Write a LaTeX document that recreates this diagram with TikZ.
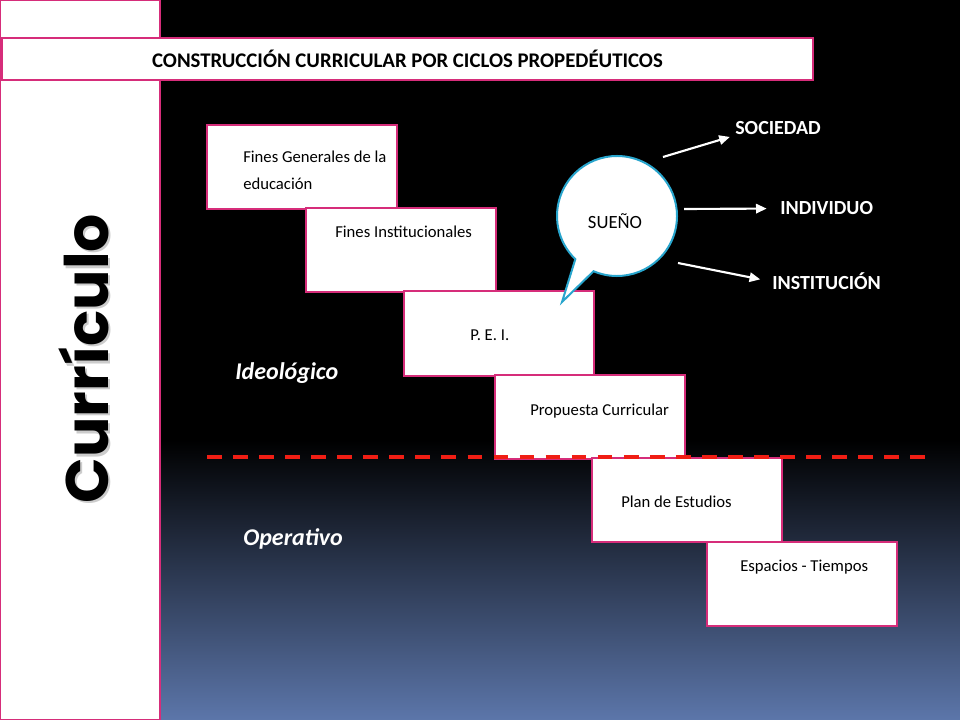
\documentclass[tikz,border=0pt]{standalone}
\usepackage{fontspec}
\setmainfont{Carlito}
\newfontfamily\curfont{Poppins}
\usetikzlibrary{arrows.meta,calc}
\definecolor{rosa}{RGB}{214,45,122}
\definecolor{celeste}{RGB}{40,165,205}
\definecolor{pizarra}{RGB}{92,118,170}
\definecolor{rojo}{RGB}{240,30,20}
\begin{document}
\begin{tikzpicture}[x=0.75pt,y=-0.75pt,
    caja/.style={draw=rosa,line width=1.5pt,fill=white,minimum width=142.5pt,minimum height=63pt,inner sep=0pt},
    txt/.style={inner sep=0pt,anchor=base west,font=\fontsize{12.5}{15}\selectfont},
    etiq/.style={inner sep=0pt,anchor=base west,text=white,font=\fontsize{15}{18}\selectfont\bfseries},
    nivel/.style={inner sep=0pt,anchor=base west,text=white,font=\fontsize{18}{22}\selectfont\bfseries\itshape},
    flecha/.style={draw=white,line width=1.6pt,-{Triangle[length=8pt,width=7pt]}}]
    \useasboundingbox (0,0) rectangle (960,720);
    \fill[black] (0,0) rectangle (960,720);
    \shade[top color=black,bottom color=pizarra] (0,440) rectangle (960,720);
    \draw[draw=rosa,fill=white,line width=1pt] (0.5,0.5) rectangle (160,719.5);
    \node[draw=rosa,fill=white,line width=1.5pt,minimum width=608pt,minimum height=31.5pt,inner sep=0pt,
      font=\fontsize{15.6}{18}\selectfont\bfseries] (tit) at (407.5,59) {CONSTRUCCIÓN CURRICULAR POR CICLOS PROPEDÉUTICOS};
    \node[rotate=90,anchor=base,text=gray,opacity=0.4,font=\curfont\bfseries\fontsize{45}{50}\selectfont] (cursombra) at (110.5,361) {Currículo};
    \node[rotate=90,anchor=base,font=\curfont\bfseries\fontsize{45}{50}\selectfont] (cur) at (108,358.5) {Currículo};
    \node[caja] (fines) at (302,167) {};
    \node[caja] (inst) at (400.5,250.5) {};
    \node[caja] (pei) at (498.5,333.5) {};
    \node[caja] (prop) at (589.5,416.5) {};
    \node[caja] (plan) at (687,500) {};
    \node[caja] (esp) at (801.5,584) {};
    \node[txt] (finestxt) at (243,163) {Fines Generales de la};
    \node[txt] (finestxtb) at (243,190) {educación};
    \node[txt] (insttxt) at (335,238) {Fines Institucionales};
    \node[txt] (peitxt) at (470,340) {P. E. I.};
    \node[txt] (proptxt) at (530,415) {Propuesta Curricular};
    \node[txt] (plantxt) at (621,507) {Plan de Estudios};
    \node[txt] (esptxt) at (740,571) {Espacios - Tiempos};
    \draw[rojo,line width=3pt,dash pattern=on 11pt off 8.54pt] (207,457) -- (925,457);
    \node[nivel] (ideo) at (235,379) {Ideológico};
    \node[nivel] (oper) at (243,545) {Operativo};
    \coordinate (bc) at (617,216);
    \draw[draw=celeste,fill=white,line width=1.5pt] ($(bc)+(134:60)$) -- (562,302) -- ($(bc)+(113:60)$)
      arc[start angle=113,end angle=-226,radius=60] -- cycle;
    \node[inner sep=0pt,font=\fontsize{14}{16}\selectfont] (sueno) at (615,221) {SUEÑO};
    \node[etiq] (soc) at (735,135) {SOCIEDAD};
    \node[etiq] (ind) at (780,215) {INDIVIDUO};
    \node[etiq] (instit) at (772,290) {INSTITUCIÓN};
    \coordinate (s1) at (663,157);
    \coordinate (s2) at (684,209);
    \coordinate (s3) at (678,263);
    \draw[flecha,shorten >=4pt] (s1) -- (soc.south west);
    \draw[flecha,shorten >=10pt] (s2) -- (ind.west);
    \draw[flecha,shorten >=9pt] (s3) -- (instit.west);
\end{tikzpicture}
\end{document}
